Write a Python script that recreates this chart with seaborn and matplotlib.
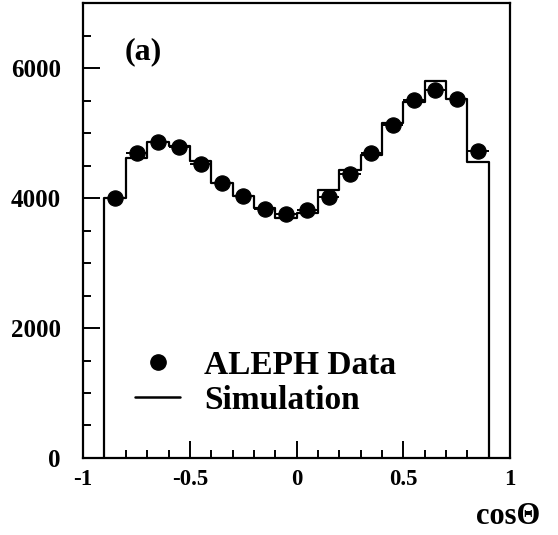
import numpy as np
import pandas as pd
import matplotlib
matplotlib.use("Agg")
import matplotlib.pyplot as plt
from matplotlib.ticker import MultipleLocator
from matplotlib.lines import Line2D
import seaborn as sns

# bin edges of cos(theta) histogram
edges = [-0.9, -0.8, -0.7, -0.6, -0.5, -0.4, -0.3, -0.2, -0.1, 0.0,
         0.1, 0.2, 0.3, 0.4, 0.5, 0.6, 0.7, 0.8, 0.9]
data_x = [-0.85, -0.75, -0.65, -0.55, -0.45, -0.35, -0.25, -0.15, -0.05,
          0.05, 0.15, 0.25, 0.35, 0.45, 0.55, 0.65, 0.75, 0.85]
aleph = [4005, 4700, 4865, 4780, 4525, 4230, 4035, 3830, 3750,
         3810, 4015, 4375, 4690, 5125, 5505, 5670, 5520, 4725]
simulation = [4005, 4625, 4860, 4795, 4565, 4230, 4035, 3855, 3690,
              3765, 4125, 4430, 4660, 5160, 5480, 5800, 5520, 4560]

sns.set_style("white")
plt.rcParams['font.family'] = ['Liberation Serif', 'DejaVu Serif']
plt.rcParams['font.weight'] = 'bold'
plt.rcParams['text.color'] = 'black'
plt.rcParams['xtick.color'] = 'black'
plt.rcParams['ytick.color'] = 'black'

fig = plt.figure(figsize=(5.58, 5.35), dpi=100)
ax = fig.add_axes([0.149, 0.144, 0.765, 0.850])

# step outline of the simulation histogram, dropping to zero at both ends
step_x = [edges[0]] + edges + [edges[-1]]
step_y = [0] + simulation + [simulation[-1], 0]
sim_df = pd.DataFrame({'x': step_x, 'y': step_y})
sns.lineplot(data=sim_df, x='x', y='y', ax=ax, sort=False, estimator=None,
             drawstyle='steps-post', color='black', linewidth=1.6)

ax.errorbar(data_x, aleph, xerr=0.05, fmt='none', ecolor='black', elinewidth=1.4)
sns.scatterplot(x=data_x, y=aleph, ax=ax, color='black', s=120, edgecolor='black', zorder=5)

ax.set_xlim(-1, 1)
ax.set_ylim(0, 7000)
ax.xaxis.set_minor_locator(MultipleLocator(0.1))
ax.yaxis.set_major_locator(MultipleLocator(2000))
ax.yaxis.set_minor_locator(MultipleLocator(500))
ax.set_xticks([-1, -0.5, 0, 0.5, 1])
ax.set_xticklabels(['-1', '-0.5', '0', '0.5', '1'])
ax.tick_params(which='both', direction='in', bottom=True, left=True,
               top=False, right=False, width=1.4)
ax.tick_params(which='major', length=12)
ax.tick_params(which='minor', length=6)
ax.tick_params(axis='x', which='major', labelsize=16.5, pad=8)
ax.tick_params(axis='y', which='major', labelsize=18, pad=16)
for lab in ax.get_xticklabels() + ax.get_yticklabels():
    lab.set_fontweight('bold')
for sp in ax.spines.values():
    sp.set_linewidth(1.6)
    sp.set_color('black')

ax.set_xlabel('')
ax.set_ylabel('')
fig.text(0.968, 0.008, 'cos\u0398', ha='right', va='bottom', fontsize=22,
         fontweight='bold')
ax.text(-0.805, 6260, '(a)', ha='left', va='center', fontsize=23, fontweight='bold')

handles = [Line2D([], [], marker='o', color='black', linestyle='none', markersize=11),
           Line2D([], [], color='black', linewidth=1.8)]
ax.legend(handles, ['ALEPH Data', 'Simulation'], loc='lower left',
          bbox_to_anchor=(0.122, 0.093), frameon=False, borderpad=0,
          borderaxespad=0, prop={'size': 24, 'weight': 'bold'},
          handlelength=1.35, handletextpad=0.72, labelspacing=0.12)

fig.savefig('out.png', dpi=100)
